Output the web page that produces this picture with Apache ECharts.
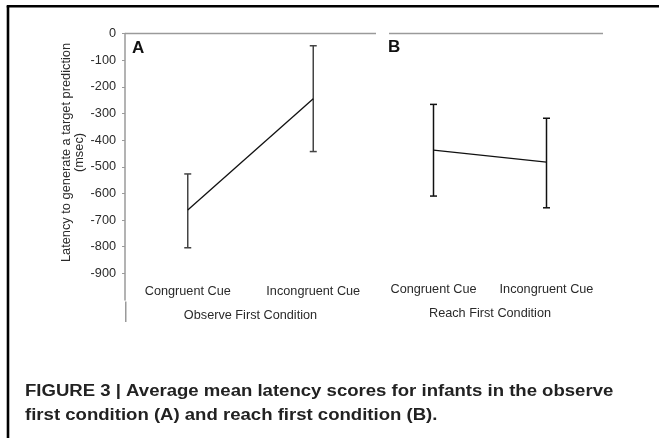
<!DOCTYPE html>
<html>
<head>
<meta charset="utf-8">
<script src="https://cdn.jsdelivr.net/npm/echarts@6/dist/echarts.min.js"></script>
<style>
html,body{margin:0;padding:0;background:#fff;}
#chart{width:659px;height:438px;}
</style>
</head>
<body>
<div id="chart"></div>
<script>
const categories = ['Congruent Cue', 'Incongruent Cue'];
const observeMean = [-662, -245];
const observeUpper = [-527, -46];
const observeLower = [-804, -443];
const reachMean = [-438, -483];
const reachUpper = [-266, -318];
const reachLower = [-610, -654];
const yTicks = [0, -100, -200, -300, -400, -500, -600, -700, -800, -900];
const groupA = 'Observe First Condition';
const groupB = 'Reach First Condition';

const FONT = '"Liberation Sans", Arial, Helvetica, sans-serif';
const TXT = '#2a2a2a';
const FS = 12.7;

function errorSeries(xi, yi, upper, lower, color, lw) {
  return {
    type: 'custom', xAxisIndex: xi, yAxisIndex: yi, silent: true, z: 3,
    data: categories.map((c, i) => [i, upper[i], lower[i]]),
    renderItem: function (params, api) {
      const x = api.value(0);
      const pHi = api.coord([x, api.value(1)]);
      const pLo = api.coord([x, api.value(2)]);
      const hw = 3.5;
      const st = { stroke: color, lineWidth: lw };
      return { type: 'group', children: [
        { type: 'line', shape: { x1: pHi[0], y1: pHi[1], x2: pLo[0], y2: pLo[1] }, style: st },
        { type: 'line', shape: { x1: pHi[0] - hw, y1: pHi[1], x2: pHi[0] + hw, y2: pHi[1] }, style: st },
        { type: 'line', shape: { x1: pLo[0] - hw, y1: pLo[1], x2: pLo[0] + hw, y2: pLo[1] }, style: st }
      ]};
    }
  };
}

const chart = echarts.init(document.getElementById('chart'), null, { renderer: 'canvas' });
const yCommon = { type: 'value', min: -1000, max: 0, interval: 100 };
chart.setOption({
  animation: false,
  backgroundColor: '#fff',
  grid: [
    { left: 125, top: 33.5, width: 251, height: 266.5 },
    { left: 377, top: 33.5, width: 226, height: 266.5 }
  ],
  xAxis: [
    { gridIndex: 0, type: 'category', data: categories, boundaryGap: true,
      axisLine: { show: false }, axisTick: { show: false }, splitLine: { show: false },
      axisLabel: { margin: -15, color: TXT, fontSize: FS, fontFamily: FONT, interval: 0 },
      name: groupA, nameLocation: 'middle', nameGap: 9,
      nameTextStyle: { color: TXT, fontSize: FS, fontFamily: FONT } },
    { gridIndex: 1, type: 'category', data: categories, boundaryGap: true,
      axisLine: { show: false }, axisTick: { show: false }, splitLine: { show: false },
      axisLabel: { margin: -17, color: TXT, fontSize: FS, fontFamily: FONT, interval: 0 },
      name: groupB, nameLocation: 'middle', nameGap: 6.5,
      nameTextStyle: { color: TXT, fontSize: FS, fontFamily: FONT } }
  ],
  yAxis: [
    Object.assign({}, yCommon, { gridIndex: 0,
      axisLine: { show: true, lineStyle: { color: '#9a9a9a', width: 1.5 } },
      axisTick: { show: true, inside: false, length: 3, customValues: yTicks,
        lineStyle: { color: '#9a9a9a', width: 1 } },
      splitLine: { show: false },
      axisLabel: { color: TXT, fontSize: FS, fontFamily: FONT, margin: 9, customValues: yTicks,
        formatter: v => (yTicks.indexOf(v) >= 0 ? String(v) : '') } }),
    Object.assign({}, yCommon, { gridIndex: 1, show: false, splitLine: { show: false } })
  ],
  series: [
    { type: 'line', xAxisIndex: 0, yAxisIndex: 0, data: observeMean, symbol: 'none',
      lineStyle: { color: '#111', width: 1.3 }, z: 4 },
    { type: 'line', xAxisIndex: 1, yAxisIndex: 1, data: reachMean, symbol: 'none',
      lineStyle: { color: '#111', width: 1.3 }, z: 4 },
    errorSeries(0, 0, observeUpper, observeLower, '#444', 1.5),
    errorSeries(1, 1, reachUpper, reachLower, '#111', 1.5)
  ],
  graphic: [
    { type: 'line', shape: { x1: 8, y1: 6, x2: 8, y2: 438 }, style: { stroke: '#000', lineWidth: 2.6 } },
    { type: 'line', shape: { x1: 6.7, y1: 6.3, x2: 659, y2: 6.3 }, style: { stroke: '#000', lineWidth: 2.6 } },
    { type: 'line', shape: { x1: 125, y1: 33.5, x2: 376, y2: 33.5 }, style: { stroke: '#9a9a9a', lineWidth: 1.5 } },
    { type: 'line', shape: { x1: 389, y1: 33.5, x2: 603, y2: 33.5 }, style: { stroke: '#9a9a9a', lineWidth: 1.5 } },
    { type: 'line', shape: { x1: 125.75, y1: 301.5, x2: 125.75, y2: 322 }, style: { stroke: '#9a9a9a', lineWidth: 1.5 } },
    { type: 'text', left: 132, top: 40, style: { text: 'A', font: 'bold 17px ' + FONT, fill: '#111' } },
    { type: 'text', left: 388, top: 39, style: { text: 'B', font: 'bold 17px ' + FONT, fill: '#111' } },
    { type: 'text', x: 73, y: 152.5, rotation: Math.PI / 2,
      style: { text: 'Latency to generate a target prediction\n(msec)', font: '12.8px ' + FONT,
        fill: TXT, align: 'center', verticalAlign: 'middle', lineHeight: 13.5 } },
    { type: 'text', x: 25, y: 380, scaleX: 1.16,
      style: { text: 'FIGURE 3 | Average mean latency scores for infants in the observe\nfirst condition (A) and reach first condition (B).',
        font: 'bold 16px ' + FONT, fill: '#222', lineHeight: 23.6 } }
  ]
});
</script>
</body>
</html>
